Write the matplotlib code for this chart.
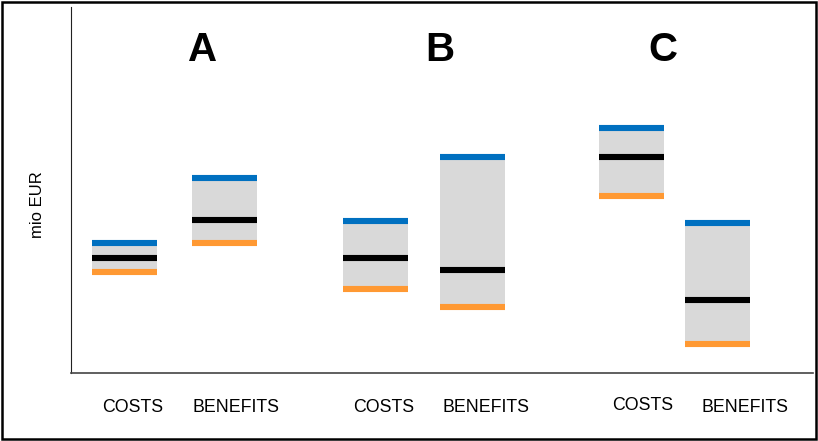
import matplotlib.pyplot as plt
from matplotlib.patches import Rectangle

# scenario values (mio EUR, arbitrary scale)
scenarios = ['A', 'B', 'C']
kinds = ['COSTS', 'BENEFITS']
high = [13.0, 19.5, 15.2, 21.6, 24.5, 15.0]
mid = [11.55, 15.3, 11.5, 10.3, 21.6, 7.3]
low = [10.15, 13.0, 8.4, 6.6, 17.7, 2.9]

# layout
xpos = [5.35, 15.35, 30.45, 40.15, 56.05, 64.65]
label_x = [6.2, 16.5, 31.3, 41.5, 57.2, 67.4]
label_y = [-3.5, -3.5, -3.5, -3.5, -3.3, -3.5]
title_x = [13.2, 36.9, 59.2]
w = 6.5

fig = plt.figure(figsize=(8.18, 4.41), dpi=100)
ax = fig.add_axes([71 / 818, 1 - 373 / 441, 742 / 818, 366 / 441])

ax.bar(xpos, [h - l for h, l in zip(high, low)], bottom=low, width=w,
       color='#D9D9D9', zorder=1)
for x, h, m, l in zip(xpos, high, mid, low):
    ax.hlines(h, x - w / 2, x + w / 2, color='#0070C0', lw=4.4, capstyle='butt', zorder=3)
    ax.hlines(m, x - w / 2, x + w / 2, color='black', lw=4.4, capstyle='butt', zorder=3)
    ax.hlines(l, x - w / 2, x + w / 2, color='#FF9933', lw=4.4, capstyle='butt', zorder=3)

for s, tx in zip(scenarios, title_x):
    ax.text(tx, 32.3, s, ha='center', va='center', fontsize=29,
            fontweight='bold', family='Liberation Sans')

for i, lx in enumerate(label_x):
    ax.text(lx, label_y[i], kinds[i % 2], ha='center', va='center', fontsize=12.8,
            family='Liberation Sans', clip_on=False)

ax.set_xlim(0, 74.2)
ax.set_ylim(0, 36.6)
ax.set_xticks([])
ax.set_yticks([])
ax.spines['top'].set_visible(False)
ax.spines['right'].set_visible(False)
ax.spines['left'].set_color('#222222')
ax.spines['bottom'].set_color('#444444')
ax.spines['bottom'].set_linewidth(1.2)

fig.text(38 / 818, 1 - 205 / 441, 'mio EUR', rotation=90, ha='center',
         va='center', fontsize=12, family='Liberation Sans')

fig.patches.append(Rectangle((0.003, 0.005), 0.994, 0.99, transform=fig.transFigure,
                             fill=False, edgecolor='black', lw=1.8))

fig.savefig('out.png', dpi=100)
